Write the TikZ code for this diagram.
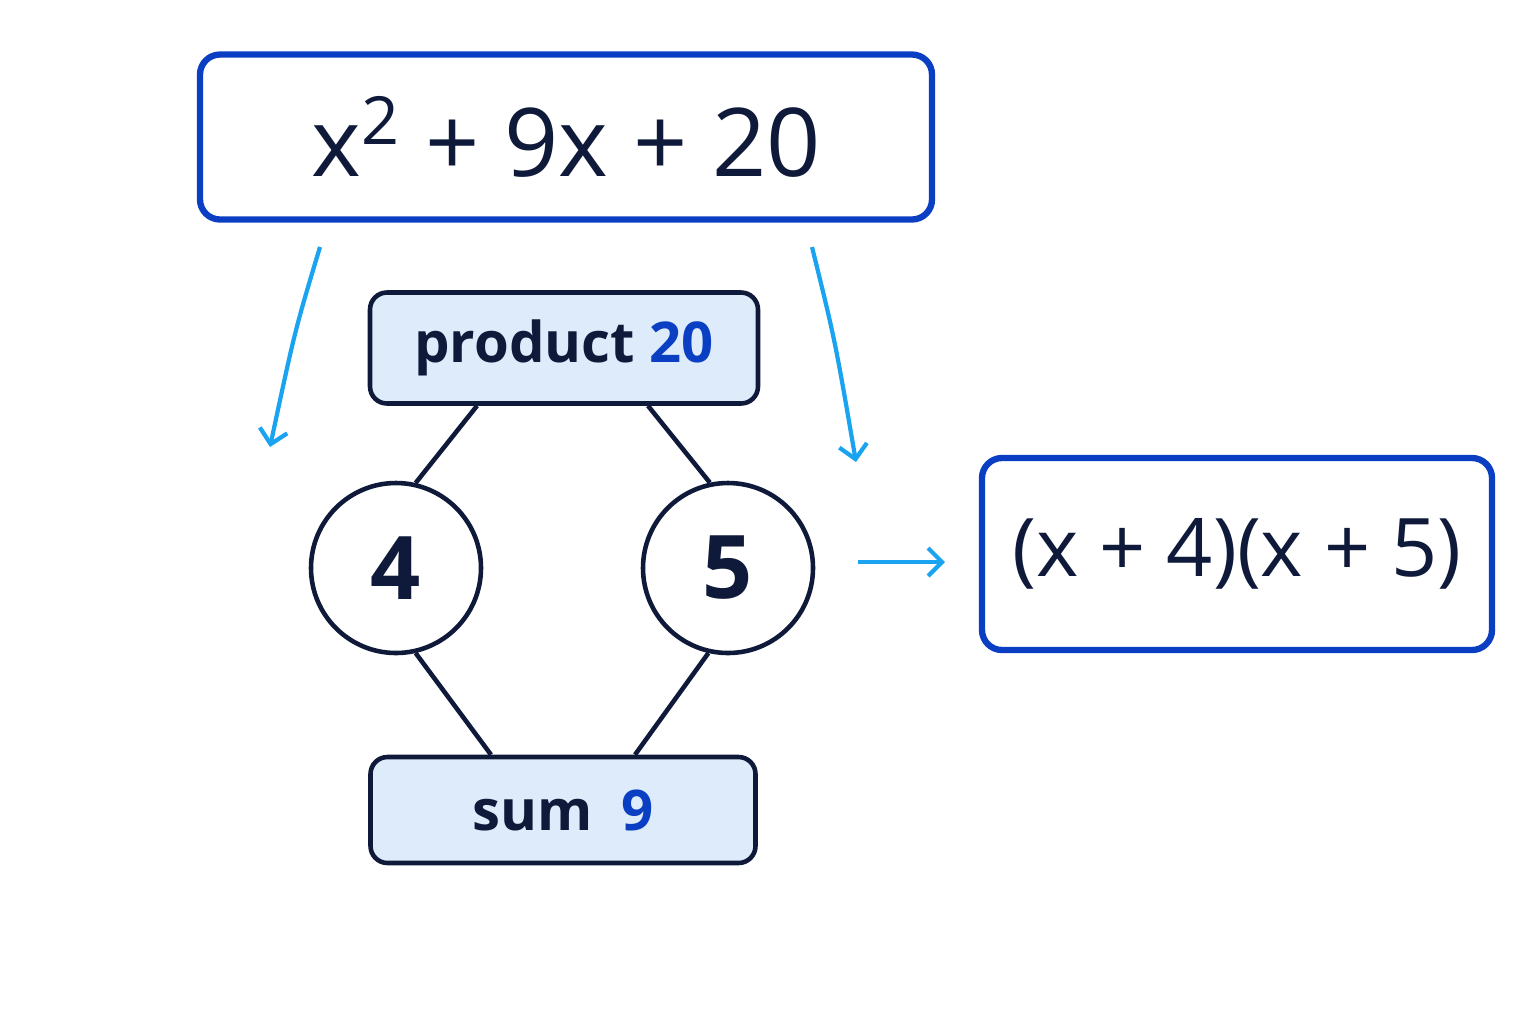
\documentclass[tikz,border=0pt]{standalone}
\usepackage{fontspec}
\setmainfont{Open Sans}
\usetikzlibrary{arrows.meta,calc}
\definecolor{deepblue}{HTML}{0A3FC4}
\definecolor{skyblue}{HTML}{1AA3F0}
\definecolor{ink}{HTML}{0F1A3A}
\definecolor{paleblue}{HTML}{DDEBFB}
\begin{document}
\begin{tikzpicture}[line width = 1.3pt,
                      bigbox/.style = {draw = deepblue, line width = 1.8pt, rounded corners = 0.2cm, text = ink, inner sep = 0pt, font = \bfseries},
                      tagbox/.style = {draw = ink, fill = paleblue, rounded corners = 0.17cm, text = ink, inner sep = 0pt, font = \fontsize{16}{19}\selectfont\bfseries},
                      num/.style = {circle, draw = ink, minimum size = 1.7cm, inner sep = 0pt, text = ink, font = \fontsize{25}{30}\selectfont\bfseries},
                      hint/.style = {draw = skyblue, line width = 1.2pt, -{Straight Barb[length=0.14cm, width=0.28cm]}}]
    \useasboundingbox (0, 0) rectangle (15.36, -10.24);
    \node [bigbox, minimum width = 7.32cm, minimum height = 1.65cm, font = \fontsize{27}{32}\selectfont] (poly) at (5.66, -1.37) {x\textsuperscript{2} + 9x + 20};
    \node [tagbox, minimum width = 3.88cm, minimum height = 1.11cm] (prod) at (5.64, -3.48) {product \textcolor{deepblue}{20}};
    \node [num] (f4) at (3.96, -5.68) {4};
    \node [num] (f5) at (7.28, -5.68) {5};
    \node [tagbox, minimum width = 3.85cm, minimum height = 1.06cm] (sum) at (5.63, -8.10) {sum \ \textcolor{deepblue}{9}};
    \node [bigbox, minimum width = 5.1cm, minimum height = 1.92cm, font = \fontsize{23}{28}\selectfont] (res) at (12.37, -5.54) {(x + 4)(x + 5)};

    \draw [ink] ($(prod.south) + (-0.87, 0)$) -- (f4.77);
    \draw [ink] ($(prod.south) + (0.84, 0)$) -- (f5.102);
    \draw [ink] (f4.-77) -- ($(sum.north) + (-0.72, 0)$);
    \draw [ink] (f5.-103) -- ($(sum.north) + (0.72, 0)$);

    \coordinate (l1) at (3.2, -2.47);
    \coordinate (l2) at (2.7, -4.47);
    \coordinate (r1) at (8.12, -2.47);
    \coordinate (r2) at (8.56, -4.62);
    \coordinate (m1) at (8.58, -5.62);
    \coordinate (m2) at (9.45, -5.62);
    \draw [hint] (l1) .. controls (2.95, -3.3) .. (l2);
    \draw [hint] (r1) .. controls (8.35, -3.4) .. (r2);
    \draw [hint] (m1) -- (m2);
\end{tikzpicture}
\end{document}
